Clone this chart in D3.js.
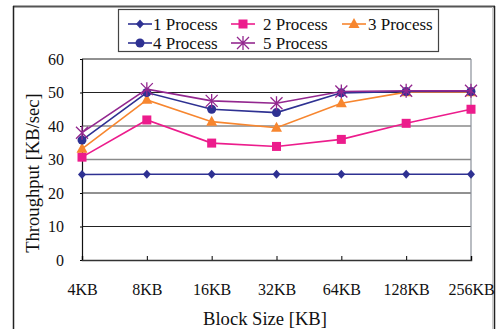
<!DOCTYPE html>
<html><head><meta charset="utf-8">
<script src="https://cdn.jsdelivr.net/npm/d3@7"></script>
<style>body{margin:0;background:#fff}svg, svg text{font-family:"Liberation Serif","Times New Roman",Times,"DejaVu Serif",serif !important}</style>
</head><body><svg id="c" width="498" height="329"></svg>
<script>
const categories = ["4KB","8KB","16KB","32KB","64KB","128KB","256KB"];
const seriesNames = ["1 Process","2 Process","3 Process","4 Process","5 Process"];
const p1 = [25.5,25.6,25.6,25.6,25.6,25.6,25.6];
const p2 = [30.7,41.8,34.9,33.9,36.0,40.8,45.0];
const p3 = [33.2,47.8,41.3,39.5,46.8,50.1,50.1];
const p4 = [35.8,50.0,45.0,44.0,49.9,50.3,50.3];
const p5 = [38.0,51.0,47.5,46.8,50.3,50.5,50.5];
const yTicks = [0,10,20,30,40,50,60];
const colors = ["#2e3192","#ec1c8c","#f7862f","#2e3192","#93278f"];
const shapes = ["diamond","square","triangle","circle","asterisk"];
const seriesData = [p1,p2,p3,p4,p5];

const svg = d3.select("#c");
const L=82,R=471,T=59,B=260;
const x = d3.scalePoint().domain(categories).range([L,R]).padding(0);
const y = d3.scaleLinear().domain([0,60]).range([B,T]);

// outer frame
svg.append("line").attr("x1",13).attr("x2",495).attr("y1",6.5).attr("y2",6.5).attr("stroke","#555").attr("stroke-width",2);
svg.append("line").attr("x1",13.5).attr("x2",13.5).attr("y1",6).attr("y2",329).attr("stroke","#222").attr("stroke-width",1.5);
svg.append("line").attr("x1",494.5).attr("x2",494.5).attr("y1",6).attr("y2",329).attr("stroke","#222").attr("stroke-width",1.5);
svg.append("line").attr("x1",492.5).attr("x2",492.5).attr("y1",7).attr("y2",329).attr("stroke","#ccc").attr("stroke-width",1);

// gridlines
const gridCol = {10:"#222",20:"#222",30:"#8a8a8a",40:"#8a8a8a",50:"#222",60:"#222"};
svg.append("g").selectAll("line").data(yTicks.filter(d=>d>0)).join("line")
  .attr("x1",L).attr("x2",R).attr("y1",d=>y(d)).attr("y2",d=>y(d))
  .attr("stroke",d=>gridCol[d]).attr("stroke-width",d=>(d==30||d==40)?1.6:1);
// right border
svg.append("line").attr("x1",R).attr("x2",R).attr("y1",T).attr("y2",B).attr("stroke","#8a9099").attr("stroke-width",1.2);

// axes
const yAxis = d3.axisLeft(y).tickValues(yTicks).tickSize(2).tickPadding(16);
const gy = svg.append("g").attr("transform",`translate(${L},0)`).call(yAxis).attr("font-family",null);
gy.select(".domain").attr("stroke","#111").attr("stroke-width",1.2);
gy.selectAll("text").attr("font-size",16).attr("fill","#111");
const xAxis = d3.axisBottom(x).tickSize(-4).tickPadding(24);
const gx = svg.append("g").attr("transform",`translate(0,${B})`).call(xAxis).attr("font-family",null);
gx.select(".domain").attr("stroke","#333").attr("stroke-width",1.5);
gx.selectAll("text").attr("font-size",16).attr("fill","#111");

// axis titles
svg.append("text").attr("x",265).attr("y",325).attr("text-anchor","middle").attr("font-size",18.6).attr("fill","#111").text("Block Size [KB]");
svg.append("text").attr("transform","translate(39,173) rotate(-90)").attr("text-anchor","middle").attr("font-size",18.6).attr("fill","#111").text("Throughput [KB/sec]");

function drawMarker(g, shape, color, cx, cy){
  if(shape==="diamond") g.append("path").attr("d",`M${cx},${cy-4.5}L${cx+4},${cy}L${cx},${cy+4.5}L${cx-4},${cy}Z`).attr("fill",color);
  else if(shape==="square") g.append("rect").attr("x",cx-4.5).attr("y",cy-4.5).attr("width",9).attr("height",9).attr("fill",color);
  else if(shape==="triangle") g.append("path").attr("d",`M${cx},${cy-6}L${cx+5.5},${cy+4}L${cx-5.5},${cy+4}Z`).attr("fill",color);
  else if(shape==="circle") g.append("circle").attr("cx",cx).attr("cy",cy).attr("r",4.5).attr("fill",color);
  else if(shape==="asterisk"){
    const s=6;
    g.append("path").attr("d",`M${cx-s},${cy-s}L${cx+s},${cy+s}M${cx-s},${cy+s}L${cx+s},${cy-s}M${cx},${cy-s-1}L${cx},${cy+s+1}`)
      .attr("stroke",color).attr("stroke-width",1.3).attr("fill","none");
  }
}

const line = d3.line().x((d,i)=>x(categories[i])).y(d=>y(d));
seriesData.forEach((data,k)=>{
  const g = svg.append("g");
  g.append("path").attr("d",line(data)).attr("fill","none").attr("stroke",colors[k]).attr("stroke-width",1.6);
  data.forEach((v,i)=>drawMarker(g,shapes[k],colors[k],x(categories[i]),y(v)));
});

// legend
svg.append("rect").attr("x",118.5).attr("y",9.5).attr("width",320).attr("height",42).attr("fill","#fff").attr("stroke","#444").attr("stroke-width",1.2);
const legLine = [[128,24],[231,24],[342,24],[128,43],[231,43]];
const legText = [153,263,368,153,263];
seriesNames.forEach((n,k)=>{
  const [lx,ly]=legLine[k];
  const g=svg.append("g");
  g.append("line").attr("x1",lx).attr("x2",lx+24).attr("y1",ly).attr("y2",ly).attr("stroke",colors[k]).attr("stroke-width",1.6);
  drawMarker(g,shapes[k],colors[k],lx+12,ly);
  g.append("text").attr("x",legText[k]).attr("y",ly+5.5).attr("font-size",17).attr("fill","#111").text(n);
});
</script></body></html>
